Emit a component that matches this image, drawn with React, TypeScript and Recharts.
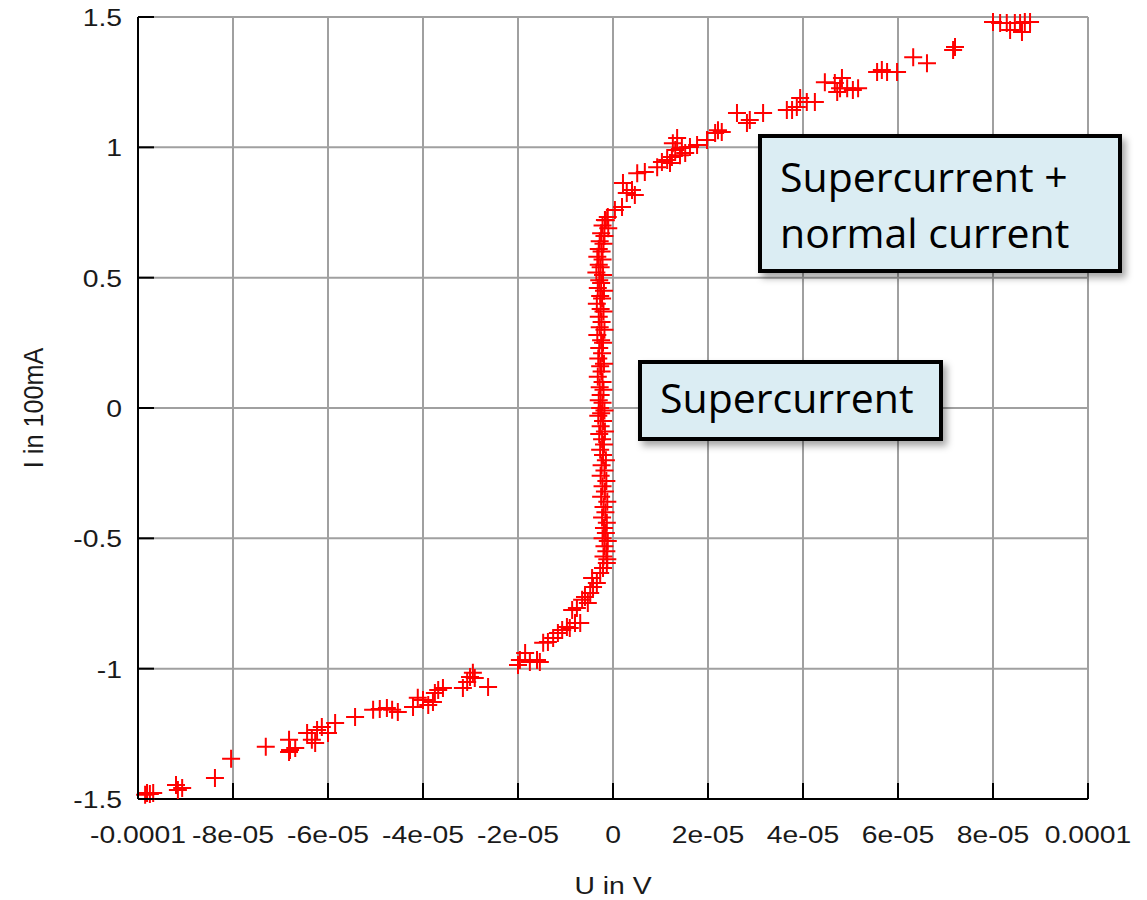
import React from 'react';
import { ScatterChart, Scatter, XAxis, YAxis, CartesianGrid } from 'recharts';

// Voltage axis (U in V) ticks and their printed labels
const uTicks = [-1e-4, -8e-5, -6e-5, -4e-5, -2e-5, 0, 2e-5, 4e-5, 6e-5, 8e-5, 1e-4];
const uTickLabels = ['-0.0001', '-8e-05', '-6e-05', '-4e-05', '-2e-05', '0', '2e-05', '4e-05', '6e-05', '8e-05', '0.0001'];

// Current axis (I in 100mA) ticks and labels
const iTicks = [-1.5, -1, -0.5, 0, 0.5, 1, 1.5];
const iTickLabels = ['-1.5', '-1', '-0.5', '0', '0.5', '1', '1.5'];

// Measured [U (V), I (100mA)] samples, grouped by branch of the I-V curve
const lowerTail: [number, number][] = [
  [-9.81e-5, -1.477], [-9.75e-5, -1.481], [-9.68e-5, -1.477], [-9.85e-5, -1.484],
  [-9.20e-5, -1.446], [-9.07e-5, -1.458], [-9.16e-5, -1.465], [-8.38e-5, -1.419],
  [-8.04e-5, -1.346], [-7.31e-5, -1.300], [-6.82e-5, -1.273], [-6.80e-5, -1.312],
  [-6.69e-5, -1.304], [-6.82e-5, -1.320], [-6.44e-5, -1.247], [-6.34e-5, -1.273],
  [-6.27e-5, -1.285], [-6.23e-5, -1.235], [-6.13e-5, -1.224], [-6.00e-5, -1.247],
  [-5.85e-5, -1.208], [-5.43e-5, -1.185], [-5.05e-5, -1.158], [-4.91e-5, -1.155],
  [-4.76e-5, -1.151], [-4.65e-5, -1.158], [-4.53e-5, -1.166], [-4.21e-5, -1.147],
  [-4.11e-5, -1.112], [-4.00e-5, -1.120], [-3.89e-5, -1.139], [-3.79e-5, -1.128],
  [-3.75e-5, -1.093], [-3.68e-5, -1.082], [-3.58e-5, -1.074], [-3.16e-5, -1.074],
  [-3.07e-5, -1.051], [-3.01e-5, -1.032], [-2.95e-5, -1.016], [-2.91e-5, -1.036],
  [-2.63e-5, -1.070],
];

const lowerKnee: [number, number][] = [
  [-1.96e-5, -0.967], [-1.85e-5, -0.940], [-1.75e-5, -0.974], [-1.60e-5, -0.967],
  [-1.54e-5, -0.974], [-2.00e-5, -0.986], [-1.47e-5, -0.901], [-1.37e-5, -0.898],
  [-1.26e-5, -0.882], [-1.16e-5, -0.863], [-1.07e-5, -0.852], [-0.97e-5, -0.840],
  [-0.91e-5, -0.844], [-0.80e-5, -0.825], [-0.69e-5, -0.825], [-0.86e-5, -0.775],
  [-0.76e-5, -0.767], [-0.65e-5, -0.736], [-0.59e-5, -0.725], [-0.53e-5, -0.748],
  [-0.48e-5, -0.710], [-0.42e-5, -0.687], [-0.34e-5, -0.671], [-0.44e-5, -0.652],
  [-0.27e-5, -0.633], [-0.21e-5, -0.614], [-0.13e-5, -0.595],
];

const superBranch: [number, number][] = [
  [-0.15e-5, 0.72], [-0.22e-5, 0.70], [-0.10e-5, 0.69], [-0.25e-5, 0.67], [-0.18e-5, 0.66],
  [-0.28e-5, 0.64], [-0.20e-5, 0.63], [-0.30e-5, 0.61], [-0.24e-5, 0.60], [-0.33e-5, 0.58],
  [-0.22e-5, 0.57], [-0.30e-5, 0.55], [-0.26e-5, 0.54], [-0.35e-5, 0.52], [-0.21e-5, 0.51],
  [-0.29e-5, 0.49], [-0.25e-5, 0.48], [-0.32e-5, 0.46], [-0.19e-5, 0.45], [-0.27e-5, 0.43],
  [-0.23e-5, 0.42], [-0.34e-5, 0.40], [-0.26e-5, 0.38], [-0.20e-5, 0.37], [-0.30e-5, 0.35],
  [-0.24e-5, 0.33], [-0.28e-5, 0.31], [-0.18e-5, 0.30], [-0.33e-5, 0.28], [-0.25e-5, 0.26],
  [-0.21e-5, 0.25], [-0.29e-5, 0.23], [-0.23e-5, 0.21], [-0.31e-5, 0.19], [-0.19e-5, 0.17],
  [-0.27e-5, 0.16], [-0.24e-5, 0.14], [-0.32e-5, 0.12], [-0.22e-5, 0.10], [-0.28e-5, 0.08],
  [-0.20e-5, 0.07], [-0.26e-5, 0.05], [-0.30e-5, 0.03], [-0.22e-5, 0.02], [-0.27e-5, 0.00],
  [-0.18e-5, -0.01], [-0.25e-5, -0.02], [-0.31e-5, -0.03], [-0.21e-5, -0.05], [-0.26e-5, -0.07],
  [-0.17e-5, -0.09], [-0.29e-5, -0.10], [-0.23e-5, -0.12], [-0.19e-5, -0.14], [-0.27e-5, -0.16],
  [-0.21e-5, -0.18], [-0.15e-5, -0.20], [-0.24e-5, -0.22], [-0.18e-5, -0.24], [-0.26e-5, -0.26],
  [-0.14e-5, -0.28], [-0.22e-5, -0.30], [-0.17e-5, -0.32], [-0.25e-5, -0.34], [-0.12e-5, -0.36],
  [-0.20e-5, -0.38], [-0.16e-5, -0.40], [-0.23e-5, -0.42], [-0.13e-5, -0.44], [-0.19e-5, -0.46],
  [-0.15e-5, -0.48], [-0.22e-5, -0.50], [-0.11e-5, -0.51], [-0.18e-5, -0.53], [-0.14e-5, -0.55],
  [-0.20e-5, -0.57], [-0.12e-5, -0.58],
];

const upperKnee: [number, number][] = [
  [-0.17e-5, 0.721], [-0.11e-5, 0.733], [0.04e-5, 0.760], [0.19e-5, 0.771], [0.21e-5, 0.863],
  [0.29e-5, 0.825], [0.40e-5, 0.836], [0.46e-5, 0.817], [0.51e-5, 0.901], [0.67e-5, 0.905],
  [0.93e-5, 0.924], [1.03e-5, 0.944], [1.14e-5, 0.951], [1.20e-5, 0.940], [1.24e-5, 0.963],
  [1.26e-5, 1.016], [1.35e-5, 1.036], [1.31e-5, 0.990], [1.41e-5, 0.970], [1.45e-5, 0.997],
  [1.52e-5, 0.978], [1.62e-5, 1.001], [1.77e-5, 1.009], [1.98e-5, 1.028], [2.15e-5, 1.055],
  [2.21e-5, 1.066], [2.29e-5, 1.059],
];

const upperTail: [number, number][] = [
  [2.61e-5, 1.132], [2.82e-5, 1.093], [2.88e-5, 1.105], [3.16e-5, 1.132], [3.66e-5, 1.143],
  [3.77e-5, 1.143], [3.87e-5, 1.155], [3.94e-5, 1.189], [4.08e-5, 1.174], [4.25e-5, 1.174],
  [4.46e-5, 1.250], [4.67e-5, 1.247], [4.72e-5, 1.212], [4.78e-5, 1.227], [4.82e-5, 1.266],
  [4.93e-5, 1.227], [5.05e-5, 1.220], [5.16e-5, 1.227], [5.56e-5, 1.289], [5.66e-5, 1.297],
  [5.77e-5, 1.289], [5.98e-5, 1.289], [6.32e-5, 1.346], [6.61e-5, 1.323], [7.16e-5, 1.373],
  [7.20e-5, 1.385], [8.00e-5, 1.481], [8.15e-5, 1.477], [8.29e-5, 1.477], [8.36e-5, 1.450],
  [8.46e-5, 1.477], [8.57e-5, 1.477], [8.61e-5, 1.442], [8.67e-5, 1.481], [8.78e-5, 1.481],
];

const toPoints = (rows: [number, number][]) => rows.map(([u, i]) => ({ u, i }));
const measurements = toPoints([...lowerTail, ...lowerKnee, ...superBranch, ...upperKnee, ...upperTail]);

const AXIS_FONT = '"Liberation Sans", Arial, sans-serif';
const BOX_FONT = '"Open Sans", "Noto Sans", sans-serif';
const TICK_LEN = 16;
const STRETCH = 1.18;

// "+" marker as used by gnuplot point type 1
const PlusMarker = (props: any) => {
  const { cx, cy } = props;
  if (cx == null || cy == null) return null;
  return (
    <path
      d={`M${cx - 9},${cy}H${cx + 9}M${cx},${cy - 9}V${cy + 9}`}
      stroke="#ff0000"
      strokeWidth={2}
      fill="none"
    />
  );
};

const BottomTick = (props: any) => {
  const { x, y, index } = props;
  return (
    <g>
      <line x1={x} y1={y} x2={x} y2={y - TICK_LEN} stroke="#000" strokeWidth={2} />
      <text
        transform={`translate(${x},${y + 44}) scale(${STRETCH},1)`}
        textAnchor="middle"
        fontSize={24}
        fontFamily={AXIS_FONT}
        fill="#1a1a1a"
      >
        {uTickLabels[index]}
      </text>
    </g>
  );
};

const TopTick = (props: any) => {
  const { x, y } = props;
  return <line x1={x} y1={y} x2={x} y2={y + TICK_LEN} stroke="#000" strokeWidth={2} />;
};

const LeftTick = (props: any) => {
  const { x, y, index } = props;
  return (
    <g>
      <line x1={x} y1={y} x2={x + TICK_LEN} y2={y} stroke="#000" strokeWidth={2} />
      <text
        transform={`translate(${x - 16},${y + 9}) scale(${STRETCH},1)`}
        textAnchor="end"
        fontSize={24}
        fontFamily={AXIS_FONT}
        fill="#1a1a1a"
      >
        {iTickLabels[index]}
      </text>
    </g>
  );
};

const RightTick = (props: any) => {
  const { x, y } = props;
  return <line x1={x} y1={y} x2={x - TICK_LEN} y2={y} stroke="#000" strokeWidth={2} />;
};

const XTitle = (props: any) => {
  const vb = props.viewBox;
  return (
    <text
      transform={`translate(${vb.x + vb.width / 2},${vb.y + 95}) scale(${STRETCH},1)`}
      textAnchor="middle"
      fontSize={24}
      fontFamily={AXIS_FONT}
      fill="#1a1a1a"
    >
      U in V
    </text>
  );
};

const YTitle = (props: any) => {
  const vb = props.viewBox;
  const cx = vb.x + 35;
  const cy = vb.y + vb.height / 2;
  return (
    <text
      transform={`translate(${cx},${cy}) rotate(-90) scale(1.05,${STRETCH})`}
      textAnchor="middle"
      fontSize={24}
      fontFamily={AXIS_FONT}
      fill="#1a1a1a"
    >
      I in 100mA
    </text>
  );
};

const boxBase: React.CSSProperties = {
  position: 'absolute',
  boxSizing: 'border-box',
  border: '4px solid #000',
  background: '#dbedf3',
  boxShadow: '4px 5px 7px rgba(0,0,0,0.35)',
  fontFamily: BOX_FONT,
  fontSize: 41,
  lineHeight: '56px',
  color: '#000',
  whiteSpace: 'nowrap',
};

export default function App() {
  const axisLine = { stroke: '#000', strokeWidth: 2 };
  return (
    <div style={{ position: 'relative', width: 1139, height: 900, marginTop: -8 }}>
      <ScatterChart
        width={1139}
        height={900}
        margin={{ top: 17, right: 59, bottom: 0, left: 0 }}
        style={{ overflow: 'visible' }}
      >
        <CartesianGrid stroke="#a0a0a0" strokeWidth={2} />
        <XAxis
          dataKey="u"
          type="number"
          domain={[-1e-4, 1e-4]}
          ticks={uTicks}
          height={101}
          tickSize={0}
          tickMargin={0}
          tickLine={false}
          axisLine={axisLine}
          tick={BottomTick}
          interval={0}
          label={{ content: XTitle }}
        />
        <XAxis
          xAxisId="top"
          orientation="top"
          dataKey="u"
          type="number"
          domain={[-1e-4, 1e-4]}
          ticks={uTicks}
          height={0}
          tickSize={0}
          tickMargin={0}
          tickLine={false}
          axisLine={axisLine}
          tick={TopTick}
          interval={0}
        />
        <YAxis
          dataKey="i"
          type="number"
          domain={[-1.5, 1.5]}
          ticks={iTicks}
          width={130}
          tickSize={0}
          tickMargin={0}
          tickLine={false}
          axisLine={axisLine}
          tick={LeftTick}
          interval={0}
          label={{ content: YTitle }}
        />
        <YAxis
          yAxisId="right"
          orientation="right"
          dataKey="i"
          type="number"
          domain={[-1.5, 1.5]}
          ticks={iTicks}
          width={0}
          tickSize={0}
          tickMargin={0}
          tickLine={false}
          axisLine={axisLine}
          tick={RightTick}
          interval={0}
        />
        <Scatter data={measurements} shape={PlusMarker} isAnimationActive={false} />
      </ScatterChart>
      <div style={{ ...boxBase, left: 750, top: 134, width: 364, height: 139, paddingLeft: 18, paddingTop: 10 }}>
        <div>Supercurrent +</div>
        <div>normal current</div>
      </div>
      <div style={{ ...boxBase, left: 630, top: 360, width: 305, height: 81, paddingLeft: 18, paddingTop: 5 }}>
        <div>Supercurrent</div>
      </div>
    </div>
  );
}
